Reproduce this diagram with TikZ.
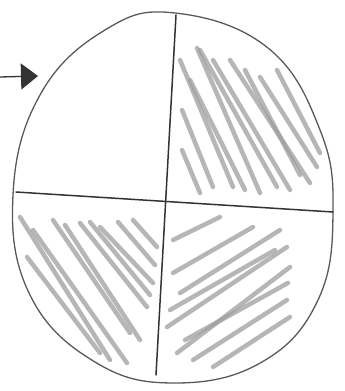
\documentclass[tikz,border=0pt]{standalone}
\usepackage{tikz}
\usetikzlibrary{arrows.meta}

\begin{document}
\begin{tikzpicture}[x=1pt, y=-1pt,
			pencil/.style={draw=black!65, line width=1.3pt, line cap=round, line join=round},
			hatch/.style={draw=black!38, line width=4.5pt, line cap=round, opacity=0.75},
			>={Triangle[width=26pt,length=17pt]}]
			%Bildbereich
			\useasboundingbox (0,0) rectangle (345,391);
			%Kreis zeichnen
			\draw[pencil] plot[smooth cycle, tension=0.7] coordinates {(175,13) (268,48) (320,130) (333,212) (318,300) (262,362) (175,383) (95,362) (30,295) (13,195) (40,95) (105,30)};
			%Schraffur oben rechts
			\foreach \a/\b/\c/\d in {197/48/260/193, 200/50/277/187, 213/60/290/190, 230/60/310/183,
				260/77/317/167, 277/70/320/153, 180/60/233/187, 182/110/213/187, 182/150/200/193,
				245/70/300/175, 190/80/245/190}
				\draw[hatch] (\a,\b) -- (\c,\d);
			%Schraffur unten links
			\foreach \a/\b/\c/\d in {20/217/110/360, 33/230/127/363, 53/220/130/333, 80/223/147/307,
				100/227/153/283, 133/220/157/247, 27/257/100/353, 65/225/140/340, 90/222/150/295,
				118/222/155/265}
				\draw[hatch] (\a,\b) -- (\c,\d);
			%Schraffur unten rechts
			\foreach \a/\b/\c/\d in {173/273/253/227, 180/293/280/230, 167/327/287/247, 177/353/290/267,
				193/360/287/300, 213/367/290/317, 173/240/220/217, 170/310/275/250, 185/340/288/283}
				\draw[hatch] (\a,\b) -- (\c,\d);
			%Achsen zeichnen
			\coordinate (top) at (176,15);
			\coordinate (bottom) at (156,375);
			\coordinate (left) at (16,192);
			\coordinate (right) at (333,212);
			\draw[pencil, draw=black!80, line width=1.5pt] (top) -- (bottom);
			\draw[pencil, draw=black!80, line width=1.5pt] (left) -- (right);
			%Pfeil
			\coordinate (tail) at (0,77);
			\coordinate (tip) at (38,76);
			\draw[pencil, draw=black!80, ->] (tail) -- (tip);
		\end{tikzpicture}
\end{document}
